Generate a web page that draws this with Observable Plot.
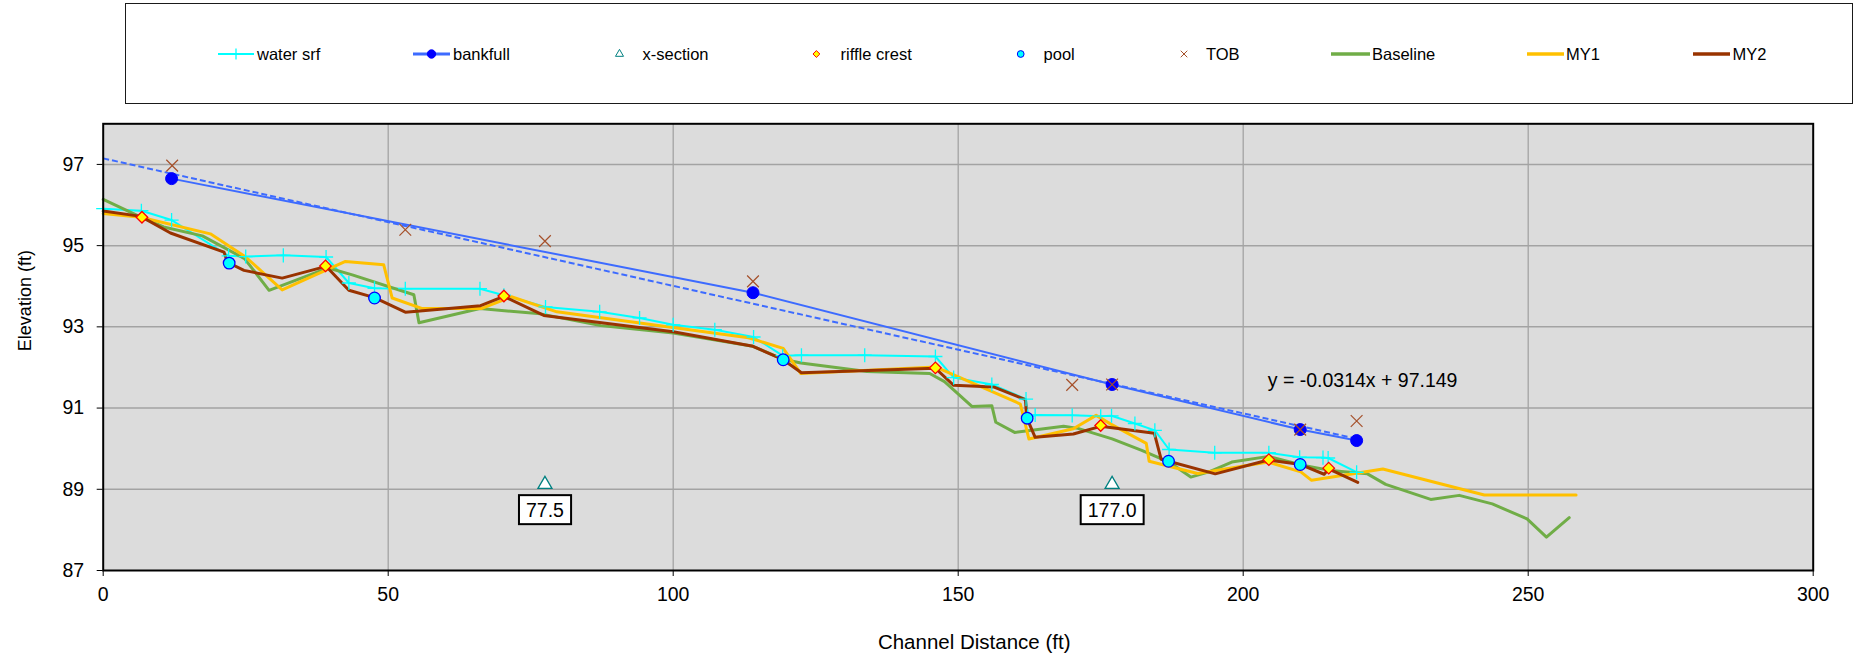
<!DOCTYPE html>
<html>
<head>
<meta charset="utf-8">
<script src="https://cdn.jsdelivr.net/npm/d3@7"></script>
<script src="https://cdn.jsdelivr.net/npm/@observablehq/plot@0.6"></script>
<style>
  html, body { margin: 0; padding: 0; background: #fff; }
  #page { width: 1854px; height: 662px; overflow: hidden; font-family: "Liberation Sans", Arial, sans-serif; }
  #legend { display: block; }
  #plot svg { display: block; }
</style>
</head>
<body>
<div id="page">
  <svg id="legend" width="1854" height="108"></svg>
  <div id="plot"></div>
</div>
<script>
// ---- Longitudinal profile: station along the channel (ft) and elevation (ft) ----
const waterSrfX = [0, 6.7, 12.0, 22.0, 25.0, 31.6, 39.1, 43.1, 47.6, 53.0, 66.1, 70.3, 77.6, 87.1, 94.1, 100.0, 107.3, 114.1, 119.2, 122.5, 133.6, 146.0, 149.2, 155.9, 161.9, 162.2, 163.5, 170.0, 175.0, 176.9, 181.0, 184.5, 187.0, 195.0, 204.5, 209.9, 214.0, 214.9, 219.9];
const waterSrfY = [95.91, 95.86, 95.63, 94.75, 94.73, 94.76, 94.72, 94.08, 93.95, 93.94, 93.94, 93.78, 93.49, 93.37, 93.22, 93.05, 92.93, 92.75, 92.29, 92.30, 92.30, 92.27, 91.75, 91.58, 91.22, 90.80, 90.83, 90.82, 90.80, 90.81, 90.62, 90.45, 89.98, 89.90, 89.90, 89.79, 89.78, 89.77, 89.42];

const bankfullX = [12.0, 114.0, 177.0, 210.0, 219.9];
const bankfullY = [96.65, 93.84, 91.58, 90.47, 90.20];

// Linear trend of the bankfull points
const trendSlope = -0.0314;
const trendIntercept = 97.149;

const xSectionX = [77.5, 177.0];
const xSectionY = [89.12, 89.12];

const riffleX = [6.8, 39.0, 70.3, 146.0, 175.0, 204.5, 215.0];
const riffleY = [95.70, 94.50, 93.76, 91.99, 90.57, 89.73, 89.52];

const poolX = [22.1, 47.6, 119.3, 162.1, 186.9, 210.0];
const poolY = [94.57, 93.71, 92.19, 90.75, 89.69, 89.61];

const tobX = [12.1, 53.0, 77.5, 114.0, 170.0, 177.0, 210.0, 219.9];
const tobY = [96.97, 95.39, 95.11, 94.12, 91.57, 91.58, 90.47, 90.68];

const baselineX = [0, 6.8, 10.6, 17.4, 24.8, 29.1, 39.5, 43.7, 54.5, 55.4, 66.1, 76.7, 87.3, 100.0, 114.0, 119.3, 122.4, 134.0, 145.0, 147.6, 152.4, 155.9, 156.6, 159.9, 168.5, 171.0, 177.0, 182.2, 187.0, 190.8, 194.0, 198.0, 204.5, 210.4, 215.5, 217.7, 221.8, 225.0, 232.9, 237.9, 243.7, 249.8, 253.2, 257.2];
const baselineY = [96.14, 95.69, 95.46, 95.24, 94.68, 93.90, 94.45, 94.28, 93.79, 93.10, 93.45, 93.32, 93.03, 92.85, 92.52, 92.20, 92.11, 91.90, 91.85, 91.65, 91.04, 91.06, 90.65, 90.40, 90.55, 90.50, 90.24, 89.96, 89.67, 89.30, 89.43, 89.67, 89.81, 89.59, 89.46, 89.43, 89.38, 89.12, 88.75, 88.85, 88.64, 88.27, 87.82, 88.30];

const my1X = [0, 6.6, 18.8, 25.0, 31.4, 42.5, 49.2, 50.7, 56.0, 66.3, 71.6, 79.6, 113.2, 119.3, 122.4, 146.1, 160.9, 162.4, 170.2, 174.2, 176.7, 183.0, 183.5, 192.0, 204.4, 210.1, 212.0, 220.1, 224.5, 242.3, 258.4];
const my1Y = [95.79, 95.70, 95.29, 94.72, 93.91, 94.61, 94.53, 93.71, 93.45, 93.45, 93.74, 93.37, 92.73, 92.47, 91.85, 92.01, 91.10, 90.24, 90.49, 90.82, 90.61, 90.13, 89.69, 89.39, 89.67, 89.43, 89.22, 89.40, 89.50, 88.86, 88.86];

const my2X = [0, 6.6, 11.8, 21.2, 21.8, 24.7, 31.4, 39.1, 43.1, 47.6, 53.0, 66.2, 70.3, 77.3, 100.0, 114.0, 119.3, 122.5, 146.0, 149.2, 156.2, 161.8, 162.0, 163.5, 170.2, 175.0, 184.4, 185.6, 186.9, 195.1, 204.4, 210.1, 214.2, 215.0, 220.1];
const my2Y = [95.85, 95.72, 95.31, 94.84, 94.59, 94.39, 94.20, 94.49, 93.90, 93.72, 93.36, 93.52, 93.75, 93.28, 92.88, 92.52, 92.19, 91.87, 91.98, 91.56, 91.52, 91.21, 90.77, 90.28, 90.36, 90.55, 90.38, 89.74, 89.69, 89.38, 89.72, 89.61, 89.37, 89.50, 89.17];

const seriesNames = ["water srf", "bankfull", "x-section", "riffle crest", "pool", "TOB", "Baseline", "MY1", "MY2"];

const xTicks = [0, 50, 100, 150, 200, 250, 300];
const yTicks = [87, 89, 91, 93, 95, 97];
const xDomain = [0, 300];
const yDomain = [87, 98];

const xTitle = "Channel Distance (ft)";
const yTitle = "Elevation (ft)";

// Placement of the trend equation (data units)
const eqAnchor = {x: 204.3, y: 91.67};

// ---- styling ----
const FONT = '"Liberation Sans", Arial, sans-serif';
const C = {
  water: "#00ffff",
  bankLine: "#3d6bff",
  bankDot: "#0000ff",
  xsec: "#008080",
  riffleFill: "#ffff00",
  riffleStroke: "#ff0000",
  poolFill: "#00ffff",
  poolStroke: "#0000ff",
  tob: "#a5502a",
  baseline: "#70ad47",
  my1: "#ffc000",
  my2: "#993300",
  plotBg: "#dcdcdc",
  grid: "#a3a3a3"
};

const pts = (xs, ys) => xs.map((x, i) => ({x, y: ys[i]}));

const waterSrf = pts(waterSrfX, waterSrfY);
const bankfull = pts(bankfullX, bankfullY);
const xSection = pts(xSectionX, xSectionY);
const riffle = pts(riffleX, riffleY);
const pool = pts(poolX, poolY);
const tob = pts(tobX, tobY);
const baseline = pts(baselineX, baselineY);
const my1 = pts(my1X, my1Y);
const my2 = pts(my2X, my2Y);

const trendXs = [0, d3.max(bankfullX)];
const trend = trendXs.map(x => ({x, y: trendSlope * x + trendIntercept}));
const eqText = `y = ${trendSlope}x + ${trendIntercept}`;
const fmt1 = d3.format(".1f");

const legendH = 108;
const lineOpts = {x: "x", y: "y", strokeLinejoin: "round", strokeLinecap: "round"};

const chart = Plot.plot({
  width: 1854,
  height: 662 - legendH,
  marginLeft: 102.7,
  marginRight: 41.3,
  marginTop: 15.3,
  marginBottom: 92,
  x: {domain: xDomain},
  y: {domain: yDomain},
  style: {fontFamily: FONT, fontSize: "19.5px", color: "#000", background: "transparent"},
  marks: [
    Plot.frame({fill: C.plotBg}),
    Plot.gridX(xTicks.slice(1, -1), {stroke: C.grid, strokeOpacity: 1, strokeWidth: 1.3}),
    Plot.gridY(yTicks.slice(1), {stroke: C.grid, strokeOpacity: 1, strokeWidth: 1.5}),
    Plot.axisX(xTicks, {tickSize: 6, tickPadding: 11, label: null, tickFormat: d => String(d)}),
    Plot.axisY(yTicks, {tickSize: 6, tickPadding: 13, label: null, tickFormat: d => String(d)}),

    Plot.line(waterSrf, {...lineOpts, stroke: C.water, strokeWidth: 2}),
    Plot.line(bankfull, {...lineOpts, stroke: C.bankLine, strokeWidth: 2}),
    Plot.line(trend, {...lineOpts, stroke: C.bankLine, strokeWidth: 2, strokeDasharray: "6,3", strokeLinecap: "butt"}),
    Plot.line(baseline, {...lineOpts, stroke: C.baseline, strokeWidth: 3}),
    Plot.line(my1, {...lineOpts, stroke: C.my1, strokeWidth: 3}),
    Plot.line(my2, {...lineOpts, stroke: C.my2, strokeWidth: 3}),

    Plot.dot(waterSrf, {x: "x", y: "y", symbol: "plus", r: 4.6, fill: "none", stroke: C.water, strokeWidth: 1.3}),
    Plot.dot(xSection, {x: "x", y: "y", symbol: "triangle", r: 5.2, fill: "#fff", stroke: C.xsec, strokeWidth: 1.3}),
    Plot.text(xSection, {x: "x", y: "y", text: d => fmt1(d.x), dy: 26, fontSize: 19.5, fill: "#000"}),
    Plot.dot(riffle, {x: "x", y: "y", symbol: "diamond2", r: 5.2, fill: C.riffleFill, stroke: C.riffleStroke, strokeWidth: 1.3}),
    Plot.dot(pool, {x: "x", y: "y", symbol: "circle", r: 5.8, fill: C.poolFill, stroke: C.poolStroke, strokeWidth: 1.3}),
    Plot.dot(bankfull, {x: "x", y: "y", symbol: "circle", r: 6, fill: C.bankDot, stroke: C.bankDot, strokeWidth: 1}),
    Plot.dot(tob, {x: "x", y: "y", symbol: "times", r: 5.4, fill: "none", stroke: C.tob, strokeWidth: 1.2}),

    Plot.text([eqAnchor], {x: "x", y: "y", text: () => eqText, textAnchor: "start", fontSize: 19.5, fill: "#000"}),
    Plot.text([xTitle], {text: d => d, frameAnchor: "bottom", dx: 16, dy: 78, fontSize: 20.5, fill: "#000"}),
    Plot.text([yTitle], {text: d => d, frameAnchor: "left", rotate: -90, dx: -77.7, dy: 4, fontSize: 18, fill: "#000"}),

    Plot.frame({stroke: "#000", strokeWidth: 2})
  ]
});

document.getElementById("plot").appendChild(chart);

// Boxed labels for the cross-section stations
const labelSet = new Set(xSectionX.map(fmt1));
chart.querySelectorAll("text").forEach(t => {
  if (!labelSet.has(t.textContent)) return;
  const bb = t.getBBox();
  const r = document.createElementNS("http://www.w3.org/2000/svg", "rect");
  const padX = 7, padY = 3.5;
  r.setAttribute("x", bb.x - padX);
  r.setAttribute("y", bb.y - padY);
  r.setAttribute("width", bb.width + 2 * padX);
  r.setAttribute("height", bb.height + 2 * padY);
  r.setAttribute("fill", "#fff");
  r.setAttribute("stroke", "#000");
  r.setAttribute("stroke-width", 2);
  if (t.getAttribute("transform")) r.setAttribute("transform", t.getAttribute("transform"));
  t.parentNode.insertBefore(r, t);
});

// ---- legend ----
const legendLayout = [
  {kind: "linemark", x0: 218, x1: 254, tx: 257},
  {kind: "linemark", x0: 413, x1: 450, tx: 453},
  {kind: "mark", mx: 619.5, tx: 642.5},
  {kind: "mark", mx: 816.4, tx: 840.5},
  {kind: "mark", mx: 1020.7, tx: 1043.6},
  {kind: "mark", mx: 1184, tx: 1206},
  {kind: "line", x0: 1331, x1: 1370, tx: 1372},
  {kind: "line", x0: 1527, x1: 1564, tx: 1566},
  {kind: "line", x0: 1693, x1: 1730, tx: 1732.6}
];
const legendStyle = [
  {line: C.water, lw: 2, sym: d3.symbolPlus, size: 40, fill: "none", stroke: C.water, sw: 1.3},
  {line: C.bankLine, lw: 3, sym: d3.symbolCircle, size: 55, fill: C.bankDot, stroke: C.bankDot, sw: 1},
  {sym: d3.symbolTriangle, size: 28, fill: "#fff", stroke: C.xsec, sw: 1},
  {sym: d3.symbolDiamond2, size: 30, fill: C.riffleFill, stroke: C.riffleStroke, sw: 1},
  {sym: d3.symbolCircle, size: 36, fill: C.poolFill, stroke: C.poolStroke, sw: 1},
  {sym: d3.symbolTimes, size: 30, fill: "none", stroke: C.tob, sw: 1},
  {line: C.baseline, lw: 3.5},
  {line: C.my1, lw: 3.5},
  {line: C.my2, lw: 3.5}
];

const leg = d3.select("#legend");
leg.append("rect")
  .attr("x", 125.5).attr("y", 3.5).attr("width", 1727).attr("height", 100)
  .attr("fill", "#fff").attr("stroke", "#1a1a1a").attr("stroke-width", 1);

const legY = 54;
seriesNames.forEach((name, i) => {
  const L = legendLayout[i], S = legendStyle[i];
  const g = leg.append("g");
  if (L.kind === "line" || L.kind === "linemark") {
    g.append("line").attr("x1", L.x0).attr("x2", L.x1).attr("y1", legY).attr("y2", legY)
      .attr("stroke", S.line).attr("stroke-width", S.lw);
  }
  if (L.kind === "linemark" || L.kind === "mark") {
    const cx = L.kind === "mark" ? L.mx : (L.x0 + L.x1) / 2;
    g.append("path").attr("d", d3.symbol(S.sym, S.size)())
      .attr("transform", `translate(${cx},${legY})`)
      .attr("fill", S.fill).attr("stroke", S.stroke).attr("stroke-width", S.sw);
  }
  g.append("text").attr("x", L.tx).attr("y", legY).attr("dy", "0.35em")
    .attr("font-family", FONT).attr("font-size", 16.5).attr("fill", "#000")
    .text(name);
});
</script>
</body>
</html>
